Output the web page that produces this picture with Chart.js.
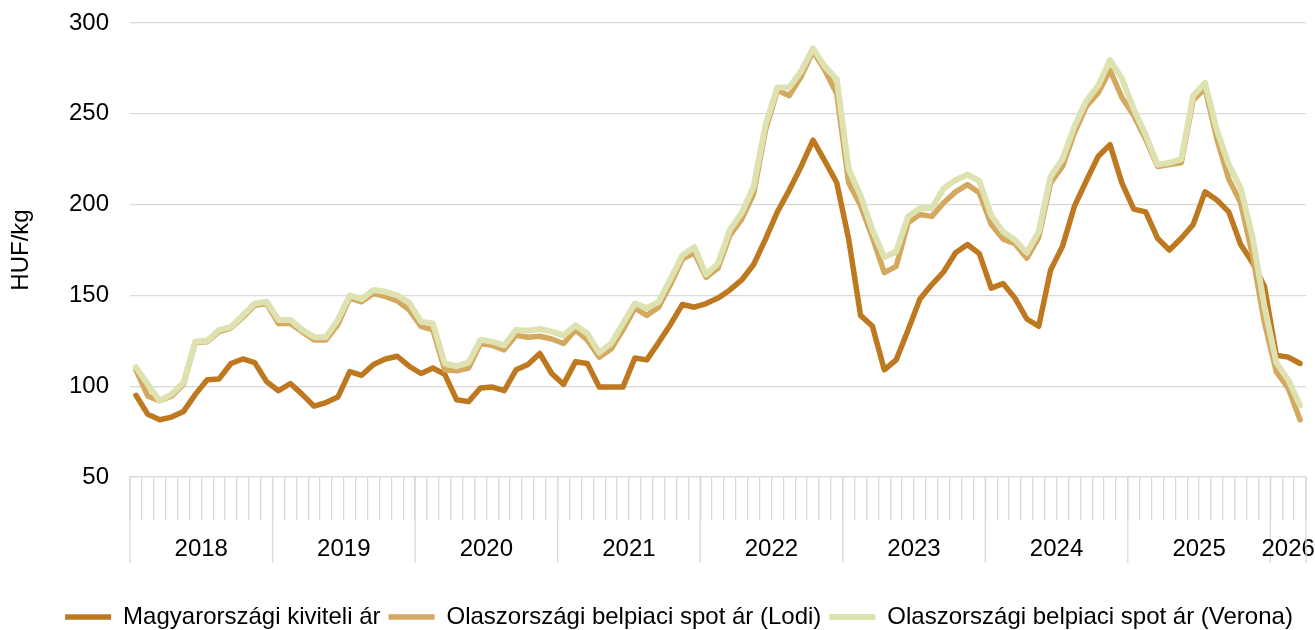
<!DOCTYPE html>
<html>
<head>
<meta charset="utf-8">
<script src="https://cdn.jsdelivr.net/npm/chart.js@4"></script>
<style>
  html, body { margin: 0; padding: 0; background: #fff; }
  #wrap { width: 1315px; height: 630px; position: relative; }
</style>
</head>
<body>
<div id="wrap"><canvas id="priceChart"></canvas></div>
<script>
// Years shown on the category axis and how many months each one has
const years = ['2018', '2019', '2020', '2021', '2022', '2023', '2024', '2025', '2026'];
const monthsPerYear = [12, 12, 12, 12, 12, 12, 12, 12, 3];

// HUF/kg, monthly
const magyar = [
    95, 84.5, 81.5, 83, 86, 95.5, 103.5, 104, 112.5, 115, 113, 102.5,
    97.5, 101.5, 95.5, 89, 91, 94, 108, 106, 112, 115, 116.5, 111,
    107, 110, 106.5, 92.5, 91.5, 99, 99.5, 97.5, 109, 112, 118, 107,
    101, 113.5, 112.5, 99.5, 99.5, 99.5, 115.5, 114.5, 124, 134, 145, 143.5,
    145.5, 148.5, 153, 158.5, 167, 181, 196, 208, 221, 235.5, 224, 212,
    181, 139, 133, 109, 114.5, 131, 148, 156, 163, 173.5, 178, 173,
    154, 156.5, 148.5, 137, 133, 164, 177, 199, 213, 226.5, 233, 212,
    197.5, 196, 181.5, 175, 181.5, 189, 207, 202.5, 196, 178, 168, 155,
    117, 116, 112.5
];
const lodi = [
    109, 94.5, 92, 94.5, 101, 124, 124.5, 130, 132, 138, 144.5, 145.5,
    134.5, 134.5, 130, 125.5, 125.5, 134, 148.5, 146.5, 151, 149.5, 147, 142,
    133, 131, 109, 108.5, 110, 123.5, 122.5, 120, 128, 127, 127.5, 126,
    123.5, 131, 125.5, 116, 120.5, 131, 143, 139, 143.5, 156, 170, 173.5,
    160, 165, 183, 192, 206, 241, 263, 260, 270.5, 284.5, 274, 261,
    212, 199.5, 182, 162.5, 166, 190, 194.5, 193.5, 201, 207, 211, 206.5,
    189, 181, 178.5, 170.5, 182, 212, 221, 239.5, 254, 261.5, 274, 259,
    249, 236, 221, 222, 223, 257.5, 264, 236, 214, 201, 172, 135,
    108, 99, 81.5
];
const verona = [
    110.5, 101, 92, 95.5, 102, 124.5, 125, 131, 132.5, 139, 145.5, 146.5,
    136.5, 136.5, 131, 127, 127, 136.5, 150, 148, 153, 152, 150, 146,
    135.5, 134.5, 112.5, 111, 113, 125.5, 124.5, 122.5, 131, 130.5, 131.5, 130,
    128, 133.5, 129, 118.5, 123.5, 134.5, 145.5, 143, 146.5, 159, 172, 176.5,
    161.5, 167.5, 186, 195.5, 210, 244, 264.5, 264.5, 273.5, 286, 276, 269,
    219.5, 205, 186, 171, 174, 193.5, 198, 198, 209, 213.5, 216.5, 213,
    194, 185, 180.5, 173.5, 185, 215.5, 225, 243, 257, 265.5, 279.5, 269.5,
    252.5, 238.5, 222, 223, 225, 260, 267, 241, 222, 209, 182, 144,
    113, 103.5, 89.5
];

// one category per month, e.g. 2018-01
const months = [];
years.forEach((y, k) => {
    for (let m = 1; m <= monthsPerYear[k]; m++) {
        months.push(y + '-' + String(m).padStart(2, '0'));
    }
});

const FONT = '"Liberation Sans", Arial, sans-serif';
const GRID = '#d9d9d9';

// second level of the category axis: long year separators + year labels
const yearAxis = {
    id: 'yearAxis',
    afterDraw(chart) {
        const x = chart.scales.x;
        const ctx = chart.ctx;
        const half = (x.getPixelForValue(1) - x.getPixelForValue(0)) / 2;
        ctx.save();
        ctx.strokeStyle = GRID;
        ctx.lineWidth = 1.3;
        ctx.fillStyle = '#000';
        ctx.font = '24px ' + FONT;
        ctx.textAlign = 'center';
        ctx.textBaseline = 'middle';
        let start = 0;
        let right = 0;
        years.forEach((yr, k) => {
            const left = x.getPixelForValue(start) - half;
            right = x.getPixelForValue(start + monthsPerYear[k] - 1) + half;
            ctx.beginPath();
            ctx.moveTo(left, x.top);
            ctx.lineTo(left, x.top + 86);
            ctx.stroke();
            ctx.fillText(yr, (left + right) / 2, x.top + 72);
            start += monthsPerYear[k];
        });
        ctx.beginPath();
        ctx.moveTo(right, x.top);
        ctx.lineTo(right, x.top + 86);
        ctx.stroke();
        ctx.restore();
    }
};

const ctx = document.getElementById('priceChart').getContext('2d');
new Chart(ctx, {
    type: 'line',
    data: {
        labels: months,
        datasets: [
            {
                label: 'Magyarországi kiviteli ár',
                data: magyar,
                borderColor: '#be7820',
                backgroundColor: '#be7820',
                borderWidth: 5.5,
                order: 3
            },
            {
                label: 'Olaszországi belpiaci spot ár (Lodi)',
                data: lodi,
                borderColor: '#d2a95f',
                backgroundColor: '#d2a95f',
                borderWidth: 5.5,
                order: 2
            },
            {
                label: 'Olaszországi belpiaci spot ár (Verona)',
                data: verona,
                borderColor: '#dee1b0',
                backgroundColor: '#dee1b0',
                borderWidth: 6,
                order: 1
            }
        ]
    },
    options: {
        responsive: true,
        maintainAspectRatio: false,
        animation: false,
        layout: { padding: { left: 52, right: 9, top: 23, bottom: -9 } },
        elements: {
            point: { radius: 0 },
            line: { tension: 0, borderCapStyle: 'round', borderJoinStyle: 'round' }
        },
        plugins: {
            tooltip: { enabled: false },
            legend: {
                position: 'bottom',
                labels: {
                    usePointStyle: true,
                    pointStyle: 'line',
                    pointStyleWidth: 46,
                    padding: 8,
                    color: '#000',
                    font: { family: FONT, size: 24 },
                    sort: (a, b) => a.datasetIndex - b.datasetIndex
                }
            }
        },
        scales: {
            x: {
                offset: true,
                grid: {
                    offset: true,
                    drawOnChartArea: false,
                    tickLength: 43,
                    color: GRID,
                    lineWidth: 1.3
                },
                border: { display: true, color: GRID, width: 1.3 },
                ticks: { display: false, autoSkip: false },
                afterFit: function(scale) { scale.height = 120; }
            },
            y: {
                min: 50,
                max: 300,
                ticks: {
                    stepSize: 50,
                    padding: 0,
                    color: '#000',
                    font: { family: FONT, size: 24 }
                },
                // invisible tick marks give the gap between labels and plot
                grid: { color: GRID, lineWidth: 1.3, drawTicks: true, tickLength: 21, tickColor: 'rgba(0,0,0,0)' },
                border: { display: false },
                title: {
                    display: true,
                    text: 'HUF/kg',
                    color: '#000',
                    font: { family: FONT, size: 24 },
                    padding: { top: -45, bottom: 0 }
                },
                afterFit: function(scale) { scale.width = 78; }
            }
        }
    },
    plugins: [yearAxis]
});
</script>
</body>
</html>
